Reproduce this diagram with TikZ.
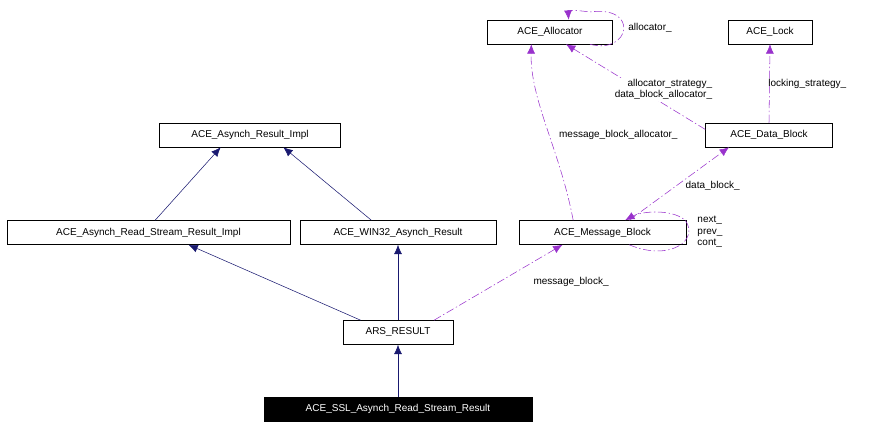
\documentclass[tikz,border=0pt]{standalone}
\usepackage{fontspec}
\setmainfont{Liberation Sans}
\usetikzlibrary{arrows.meta}
\definecolor{navy}{RGB}{25,25,112}
\definecolor{orchid}{RGB}{153,50,204}
\begin{document}
\begin{tikzpicture}[x=0.75pt,y=-0.75pt,>={Latex[length=7pt,width=6pt]}, % pixel grid
  cls/.style={draw,rectangle,inner sep=0pt,minimum height=18pt,font=\fontsize{7.5}{8}\selectfont},
  inh/.style={->,navy},
  use/.style={->,orchid,dash pattern=on 6pt off 2pt on 1pt off 2pt},
  lbl/.style={text=black,font=\fontsize{7.5}{8.5}\selectfont,inner sep=1pt,align=left}]

  \useasboundingbox (0,0) rectangle (879,428);

  \node[cls,minimum width=93.75pt](alloc) at (550,32) {ACE\_Allocator};
  \node[cls,minimum width=63pt](lock) at (770,32) {ACE\_Lock};
  \node[cls,minimum width=135.75pt](impl) at (250,135) {ACE\_Asynch\_Result\_Impl};
  \node[cls,minimum width=95.25pt](data) at (769,135) {ACE\_Data\_Block};
  \node[cls,minimum width=212.25pt](rsimpl) at (148.5,232.5) {ACE\_Asynch\_Read\_Stream\_Result\_Impl};
  \node[cls,minimum width=147pt](win) at (398,232.5) {ACE\_WIN32\_Asynch\_Result};
  \node[cls,minimum width=125.25pt](mb) at (602.5,232.5) {ACE\_Message\_Block};
  \node[cls,minimum width=82.5pt](ars) at (398,332.5) {ARS\_RESULT};
  \node[cls,minimum width=201pt,fill=black,text=white](ssl) at (398,409) {ACE\_SSL\_Asynch\_Read\_Stream\_Result};

  \draw[inh] ([xshift=5]rsimpl.north) -- ([xshift=-22]impl.south);
  \draw[inh] ([xshift=-20]win.north) -- ([xshift=25]impl.south);
  \draw[inh] ([xshift=-28]ars.north) -- ([xshift=30]rsimpl.south);
  \draw[inh] (ars) -- (win);
  \draw[inh] (ssl) -- (ars);

  \draw[use] ([xshift=27]ars.north) -- ([xshift=-30]mb.south)
    node[lbl,pos=0.7,below right=6pt] {message\_block\_};
  \draw[use] ([xshift=20]mb.north) -- ([xshift=-30]data.south)
    node[lbl,pos=0.55,below right] {data\_block\_};
  \draw[use] ([xshift=-22]mb.north) .. controls (560,150) and (530,100) .. ([xshift=-14]alloc.south)
    node[lbl,pos=0.45,right=6pt,fill=white] {message\_block\_allocator\_};
  \draw[use] ([yshift=-5]data.north west) -- ([xshift=12]alloc.south)
    node[lbl,pos=0.3,above=2pt,align=right,fill=white] {allocator\_strategy\_\\data\_block\_allocator\_};
  \draw[use] (data.north) -- (lock.south)
    node[lbl,pos=0.5,right=-2pt] {locking\_strategy\_};
  \draw[use] ([xshift=30]alloc.south) .. controls (630,55) and (640,5) .. (590,12)
    .. controls (575,10) and (568,10) .. ([xshift=14]alloc.north);
  \node[lbl] at (650,28) {allocator\_};
  \draw[use] ([xshift=20]mb.south) .. controls (670,262) and (700,240) .. (685,220)
    .. controls (670,208) and (640,212) .. ([xshift=17]mb.north);
  \node[lbl,align=left] at (710,232) {next\_\\prev\_\\cont\_};

\end{tikzpicture}
\end{document}
